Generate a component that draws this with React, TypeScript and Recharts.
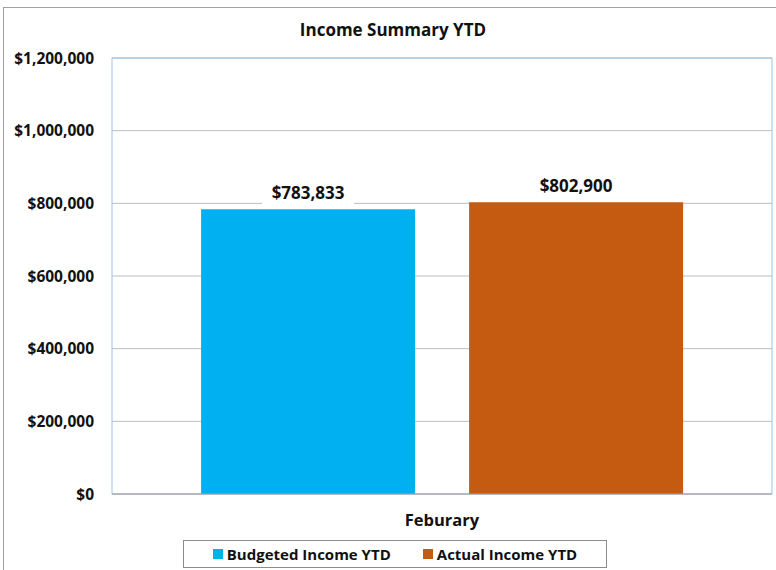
import React from 'react';
import {
    BarChart,
    Bar,
    XAxis,
    YAxis,
    CartesianGrid,
    Legend,
    LabelList,
    ReferenceArea,
} from 'recharts';

const months = ['Feburary'];
const budgetedIncome = [783833];
const actualIncome = [802900];
const yTicks = [0, 200000, 400000, 600000, 800000, 1000000, 1200000];

const seriesInfo = [
    { key: 'budgeted', name: 'Budgeted Income YTD', color: '#00B0F0' },
    { key: 'actual', name: 'Actual Income YTD', color: '#C55A11' },
];

const data = months.map((m, i) => ({
    month: m,
    budgeted: budgetedIncome[i],
    actual: actualIncome[i],
}));

const font = '"Open Sans", sans-serif';
const money = (v: number) => '$' + v.toLocaleString('en-US');

const ValueLabel = (props: any) => {
    const { x, y, width, value } = props;
    const cx = x + width / 2;
    const text = money(value);
    const w = text.length * 11 + 4;
    return (
        <g>
            <rect x={cx - w / 2} y={y - 28} width={w} height={23} fill="#FFFFFF" />
            <text
                x={cx}
                y={y - 10}
                textAnchor="middle"
                fontFamily={font}
                fontWeight={700}
                fontSize={17}
                fill="#111111"
            >
                {text}
            </text>
        </g>
    );
};

const LegendBox = () => (
    <div
        style={{
            width: 422,
            height: 26,
            border: '1px solid #8C8C8C',
            display: 'flex',
            alignItems: 'center',
            justifyContent: 'center',
            gap: 32,
            fontFamily: font,
            fontWeight: 700,
            fontSize: 15,
            color: '#111111',
            background: '#FFFFFF',
        }}
    >
        {seriesInfo.map(s => (
            <span key={s.key} style={{ display: 'flex', alignItems: 'center' }}>
                <span
                    style={{
                        width: 10,
                        height: 10,
                        background: s.color,
                        display: 'inline-block',
                        marginRight: 4,
                    }}
                />
                {s.name}
            </span>
        ))}
    </div>
);

export default function App() {
    return (
        <div style={{ position: 'absolute', left: 0, top: 0, width: 776, height: 570, background: '#FFFFFF' }}>
            <div
                style={{
                    position: 'absolute',
                    left: 3,
                    top: 7,
                    width: 773,
                    height: 563,
                    borderTop: '1px solid #A0A0A0',
                    borderLeft: '1px solid #A0A0A0',
                }}
            />
            <div
                style={{
                    position: 'absolute',
                    top: 18,
                    width: 786,
                    textAlign: 'center',
                    fontFamily: font,
                    fontWeight: 700,
                    fontSize: 17,
                    color: '#111111',
                }}
            >
                Income Summary YTD
            </div>
            <BarChart
                width={776}
                height={570}
                data={data}
                margin={{ top: 58, right: 4, bottom: 0, left: 0 }}
                barGap={54}
                barCategoryGap="13.5%"
                style={{ position: 'absolute', left: 0, top: 0 }}
            >
                <CartesianGrid vertical={false} stroke="#BDBDBD" />
                <ReferenceArea
                    y1={0}
                    y2={1200000}
                    fill="none"
                    stroke="#9DC3E6"
                    strokeWidth={1}
                    ifOverflow="visible"
                />
                <XAxis
                    dataKey="month"
                    height={48}
                    tickLine={false}
                    axisLine={{ stroke: '#A6A6A6' }}
                    tickMargin={14}
                    tick={{ fontFamily: font, fontWeight: 700, fontSize: 16.5, fill: '#111111' }}
                />
                <YAxis
                    width={112}
                    domain={[0, 1200000]}
                    ticks={yTicks}
                    tickFormatter={money}
                    tickLine={false}
                    axisLine={false}
                    tickMargin={12}
                    tick={{ fontFamily: font, fontWeight: 700, fontSize: 15.5, fill: '#111111' }}
                />
                <Legend
                    verticalAlign="bottom"
                    content={LegendBox}
                    wrapperStyle={{ position: 'absolute', left: 183, top: 540, width: 424, height: 28, bottom: 'auto' }}
                />
                {seriesInfo.map(s => (
                    <Bar key={s.key} dataKey={s.key} name={s.name} fill={s.color} isAnimationActive={false}>
                        <LabelList dataKey={s.key} content={ValueLabel} />
                    </Bar>
                ))}
            </BarChart>
        </div>
    );
}
